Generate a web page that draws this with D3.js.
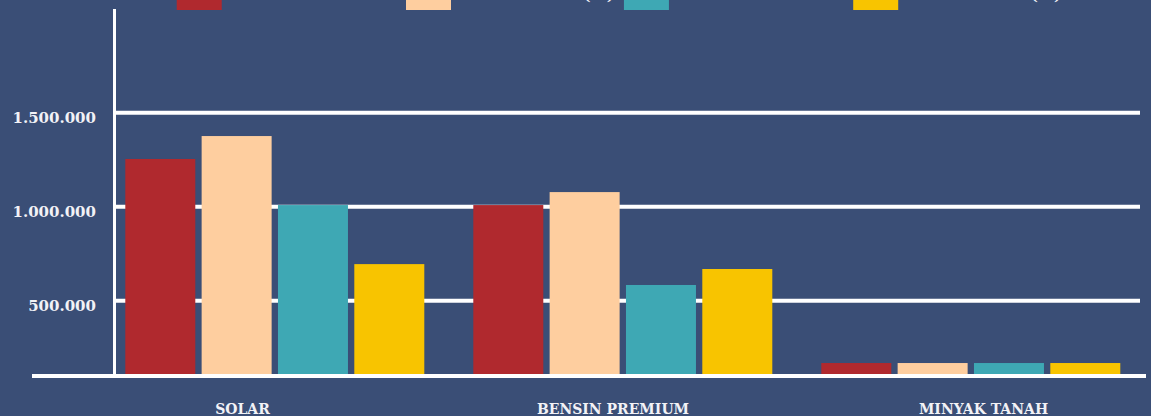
<!DOCTYPE html>
<html>
<head>
<meta charset="utf-8">
<script src="https://cdn.jsdelivr.net/npm/d3@7"></script>
<style>
  html, body { margin: 0; padding: 0; background: #3A4E76; overflow: hidden; }
  svg { display: block; }
  text { font-family: "DejaVu Serif", "Liberation Serif", serif; font-weight: bold; fill: #F2F2F6; }
</style>
</head>
<body>
<svg id="chart" width="1151" height="416"></svg>
<script>
// ---- data ----
const categories = ["SOLAR", "BENSIN PREMIUM", "MINYAK TANAH"];
const seriesNames = ["Kuota APBN-P 2012", "Realisasi 2012 (kl)", "Kuota APBN-P 2013", "Realisasi 2013 (kl)"];
const series1 = [1254000, 1009000, 169000];
const series2 = [1376000, 1078000, 169000];
const series3 = [1009000, 584000, 169000];
const series4 = [695000, 669000, 169000];
const yTicks = [500000, 1000000, 1500000];
const colors = ["#B0292E", "#FECE9F", "#3EA8B4", "#F8C400"];

const allSeries = [series1, series2, series3, series4];

const W = 1151, H = 416;
const svg = d3.select("#chart");
svg.append("rect").attr("width", W).attr("height", H).attr("fill", "#3A4E76");

const fmt = d3.formatLocale({ decimal: ",", thousands: ".", grouping: [3], currency: ["", ""] }).format(",");

const y = d3.scaleLinear().domain([100000, 2050000]).range([376, 9.3]);
const x0 = d3.scaleBand().domain(categories).range([125.3, 1120.3]).paddingInner(49 / 348).paddingOuter(0);
const x1 = d3.scaleBand().domain(d3.range(seriesNames.length)).range([0, x0.bandwidth()]).paddingInner(0.083).paddingOuter(0);
const xLabel = d3.scalePoint().domain(categories).range([242.5, 983.5]);

// gridlines
const yAxis = d3.axisLeft(y).tickValues(yTicks).tickSize(0).tickFormat(fmt);
const gGrid = svg.append("g");
gGrid.selectAll("line").data(yTicks).join("line")
  .attr("x1", 116).attr("x2", 1140)
  .attr("y1", d => y(d)).attr("y2", d => y(d))
  .attr("stroke", "#FFFFFF").attr("stroke-width", 4);

// bars
const gBars = svg.append("g");
categories.forEach((c, ci) => {
  allSeries.forEach((s, si) => {
    gBars.append("rect")
      .attr("x", x0(c) + x1(si))
      .attr("width", x1.bandwidth())
      .attr("y", y(s[ci]))
      .attr("height", y.range()[0] - y(s[ci]))
      .attr("fill", colors[si]);
  });
});

// y axis
const gy = svg.append("g").attr("transform", "translate(99,0)").call(yAxis);
gy.select(".domain").remove();
gy.selectAll("text").attr("font-size", 15).attr("dy", "0.62em").attr("fill", "#F2F2F6")
  .style("font-family", '"DejaVu Serif", serif').style("font-weight", "bold");

svg.append("line").attr("x1", 114.5).attr("x2", 114.5).attr("y1", 9).attr("y2", 376)
  .attr("stroke", "#FFFFFF").attr("stroke-width", 3);

// baseline
svg.append("line").attr("x1", 32).attr("x2", 1146).attr("y1", y.range()[0]).attr("y2", y.range()[0])
  .attr("stroke", "#FFFFFF").attr("stroke-width", 4);

// x labels
svg.append("g").selectAll("text").data(categories).join("text")
  .attr("x", d => xLabel(d)).attr("y", 414)
  .attr("text-anchor", "middle").attr("font-size", 14)
  .text(d => d);

// legend
const legend = svg.append("g");
const items = seriesNames.map((name, i) => {
  const g = legend.append("g");
  g.append("rect").attr("x", 0).attr("y", -10).attr("width", 45).attr("height", 20).attr("fill", colors[i]);
  const t = g.append("text").attr("x", 50).attr("y", -0.5).attr("font-size", 15).text(name);
  return { g, w: 50 + t.node().getComputedTextLength() + 10 };
});
let lx = 406 - items[0].w;
items.forEach(it => { it.g.attr("transform", `translate(${lx},0)`); lx += it.w; });
</script>
</body>
</html>
